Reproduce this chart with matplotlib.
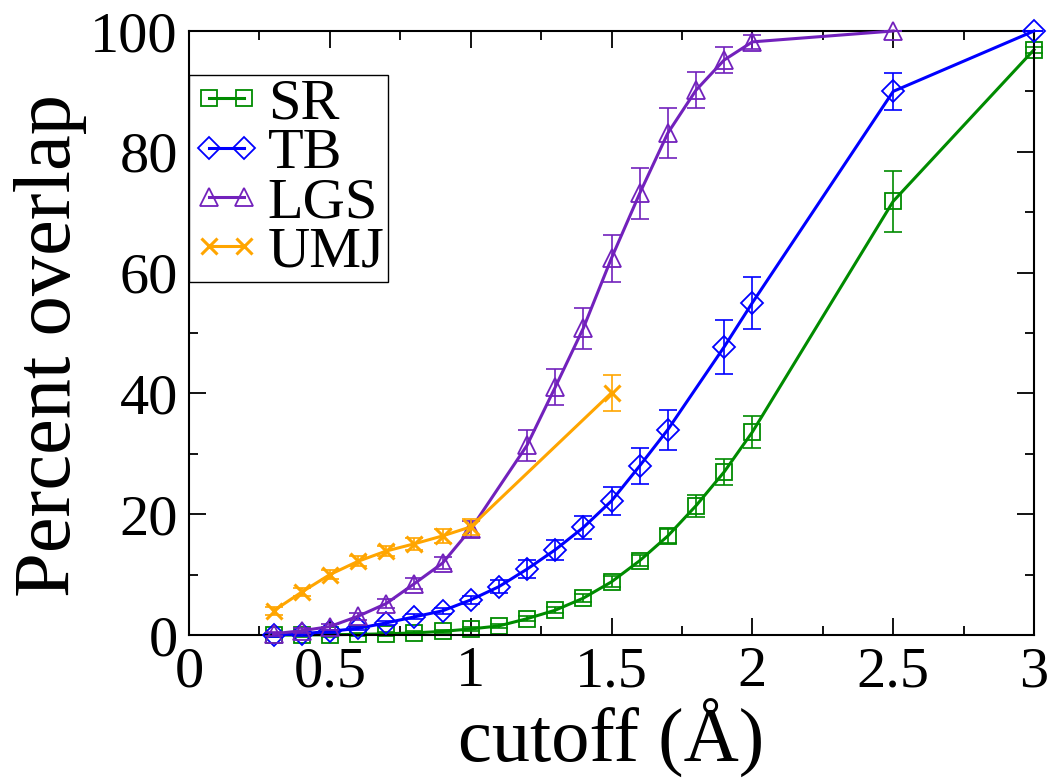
import matplotlib
matplotlib.use("Agg")
import matplotlib.pyplot as plt
import numpy as np

plt.rcParams["font.family"] = ["Liberation Serif", "DejaVu Serif"]

# Percent overlap vs cutoff
sr_x = [0.3, 0.4, 0.5, 0.6, 0.7, 0.8, 0.9, 1.0, 1.1, 1.2, 1.3, 1.4, 1.5, 1.6, 1.7, 1.8, 1.9, 2.0, 2.5, 3.0]
sr_y = [0.0, 0.0, 0.05, 0.1, 0.2, 0.35, 0.6, 1.0, 1.5, 2.7, 4.1, 6.1, 8.8, 12.3, 16.4, 21.4, 27.0, 33.6, 71.8, 96.9]
sr_err = [0.3, 0.3, 0.3, 0.3, 0.3, 0.3, 0.3, 0.3, 0.4, 0.4, 0.5, 0.7, 0.9, 0.9, 1.2, 1.8, 2.1, 2.6, 5.0, 0.5]

tb_x = [0.3, 0.4, 0.5, 0.6, 0.7, 0.8, 0.9, 1.0, 1.1, 1.2, 1.3, 1.4, 1.5, 1.6, 1.7, 1.9, 2.0, 2.5, 3.0]
tb_y = [0.0, 0.2, 0.6, 1.1, 2.0, 3.0, 4.0, 5.8, 8.0, 10.9, 14.1, 17.8, 22.2, 28.0, 34.0, 47.7, 55.0, 90.0, 100.0]
tb_err = [0.3, 0.3, 0.3, 0.3, 0.3, 0.4, 0.5, 0.7, 1.1, 1.5, 1.6, 1.9, 2.3, 3.0, 3.3, 4.5, 4.3, 3.0, 0.0]

lgs_x = [0.3, 0.4, 0.5, 0.6, 0.7, 0.8, 0.9, 1.0, 1.2, 1.3, 1.4, 1.5, 1.6, 1.7, 1.8, 1.9, 2.0, 2.5]
lgs_y = [0.2, 0.7, 1.4, 3.1, 5.2, 8.5, 11.9, 17.5, 31.4, 41.0, 50.8, 62.4, 73.1, 83.1, 90.2, 95.2, 98.2, 100.0]
lgs_err = [0.3, 0.4, 0.5, 0.6, 0.7, 0.9, 1.0, 1.3, 2.6, 3.0, 3.4, 3.9, 4.2, 4.1, 3.0, 2.2, 1.2, 0.0]

umj_x = [0.3, 0.4, 0.5, 0.6, 0.7, 0.8, 0.9, 1.0, 1.5]
umj_y = [4.0, 7.1, 10.0, 12.2, 13.9, 15.1, 16.4, 17.9, 40.1]
umj_err = [0.7, 0.7, 0.7, 0.8, 0.9, 1.0, 1.1, 1.3, 3.0]

series = [
    ("SR", sr_x, sr_y, sr_err, "#008b00", "s", 11),
    ("TB", tb_x, tb_y, tb_err, "#0000ff", "D", 11.5),
    ("LGS", lgs_x, lgs_y, lgs_err, "#7221bc", "^", 13),
    ("UMJ", umj_x, umj_y, umj_err, "#ffa500", "x", 11),
]

fig = plt.figure(figsize=(10.55, 7.8), dpi=100)
ax = fig.add_axes([189 / 1055, 145 / 780, 845 / 1055, 604 / 780])

for i, (name, x, y, err, c, m, ms) in enumerate(series):
    ax.errorbar(x, y, yerr=err, fmt="none", ecolor=c, elinewidth=1.2,
                capsize=6.5, capthick=1.2, clip_on=False, zorder=2 + i)
    ax.plot(x, y, color=c, lw=2.2, marker=m, ms=ms, mfc="none", mec=c,
            mew=1.3 if m != "x" else 2.2, label=name, clip_on=False, zorder=2 + i)

ax.set_xlim(0, 3)
ax.set_ylim(0, 100)
ax.set_xticks(np.arange(0, 3.01, 0.5))
ax.set_xticks(np.arange(0, 3.01, 0.25), minor=True)
ax.set_yticks(np.arange(0, 101, 20))
ax.set_yticks(np.arange(0, 101, 10), minor=True)
ax.set_xticklabels(["0", "0.5", "1", "1.5", "2", "2.5", "3"])
ax.tick_params(which="both", direction="in", top=True, right=True, width=1.3, labelsize=42, pad=8)
ax.tick_params(which="major", length=12)
ax.tick_params(which="minor", length=6.5)
for s in ax.spines.values():
    s.set_linewidth(1.5)

ax.set_xlabel("cutoff (Å)", fontsize=55)
ax.set_ylabel("Percent overlap", fontsize=58)
ax.xaxis.set_label_coords(0.5, -0.105)
ax.yaxis.set_label_coords(-0.121, 0.48)

leg = ax.legend(loc="upper left", bbox_to_anchor=(0.0, (635 - 75) / 604), fontsize=42,
                frameon=True, fancybox=False, framealpha=1, edgecolor="black",
                numpoints=2, handlelength=1.2, handletextpad=0.1, borderpad=0.05,
                borderaxespad=0.0, labelspacing=-0.06)
leg.get_frame().set_linewidth(1.0)

fig.savefig("out.png", dpi=100)
